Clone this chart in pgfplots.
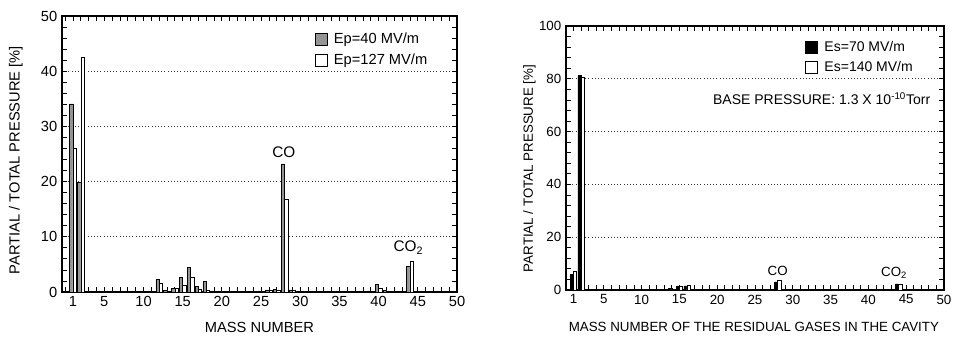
\documentclass[border=0pt]{standalone}
\usepackage{pgfplots}
\pgfplotsset{compat=1.18}
\usepackage{fontspec}
\setmainfont{Liberation Sans}
\pgfplotsset{
  sqlegend/.style={legend image code/.code={\draw[##1,line width=0.5pt] (0pt,-4.5pt) rectangle (9pt,4.5pt);}},
  common/.style={
    scale only axis,
    axis line style={line width=1pt},
    /pgf/number format/assume math mode=true,
    ybar, bar width=0.42,
    ymin=0,
    xmax=50,
    xtick={1,5,10,15,20,25,30,35,40,45,50},
    minor xtick={0,1,...,50},
    tick align=inside,
    major tick length=3.5pt, minor tick length=3.5pt,
    tick style={line width=0.6pt,black},
    ymajorgrids, grid style={dotted, line width=0.5pt, black!80},
    legend cell align=left,
    legend style={draw=none, fill=none, inner sep=0pt, row sep=2pt, anchor=north west,
      /tikz/every odd column/.append style={column sep=3pt}},
  }
}
\begin{document}
\begin{tikzpicture}
\useasboundingbox (0,0) rectangle (715.5pt,254.25pt);
\begin{axis}[common,
  at={(46.5pt,35.25pt)}, anchor=south west,
  width=296.25pt, height=207pt,
  xmin=-0.4, ymax=50,
  ytick={0,10,...,50}, minor y tick num=4,
  font=\fontsize{11}{13}\selectfont,
  xlabel={MASS NUMBER},
  ylabel={PARTIAL / TOTAL PRESSURE  [\%]},
  xlabel style={at={(axis description cs:0.5,-0.127)}, anchor=center},
  ylabel style={at={(axis description cs:-0.117,0.478)}, anchor=center},
  legend style={at={(axis cs:31.8,47.4)}, font=\fontsize{11}{13}\selectfont},
]
\addplot[sqlegend, draw=black, line width=0.4pt, fill=black!42, bar shift=-0.21] coordinates {
(1,34.1)(2,19.9)(12,2.3)(13,0.3)(14,0.7)(15,2.7)(16,4.5)(17,1.0)(18,1.9)(19,0.2)(20,0.1)
(25,0.2)(26,0.4)(27,0.5)(28,23.2)(29,0.4)(30,0.2)(39,0.2)(40,1.4)(41,0.3)(44,4.6)};
\addlegendentry{Ep=40 MV/m}
\addplot[sqlegend, draw=black, line width=0.4pt, fill=white, bar shift=0.21] coordinates {
(1,26.0)(2,42.5)(12,1.5)(13,0.2)(14,0.6)(15,1.3)(16,2.6)(17,0.5)(18,0.3)(19,0.1)(20,0.1)
(25,0.1)(26,0.3)(27,0.4)(28,16.8)(29,0.3)(30,0.1)(40,0.7)(41,0.2)(44,5.6)};
\addlegendentry{Ep=127 MV/m}
\node[font=\fontsize{11.5}{13}\selectfont] at (axis cs:27.9,25.4) {CO};
\node[font=\fontsize{11.5}{13}\selectfont] at (axis cs:43.8,8.0) {CO\textsubscript{2}};
\end{axis}
\begin{axis}[common,
  at={(424.5pt,36.75pt)}, anchor=south west,
  width=283.5pt, height=198pt,
  xmin=0, ymax=100,
  ytick={0,20,...,100}, minor y tick num=4,
  font=\fontsize{10}{12}\selectfont,
  xlabel={MASS NUMBER OF THE RESIDUAL GASES IN THE CAVITY},
  ylabel={PARTIAL / TOTAL PRESSURE [\%]},
  xlabel style={at={(axis description cs:0.497,-0.14)}, anchor=center},
  ylabel style={at={(axis description cs:-0.097,0.46)}, anchor=center},
  legend style={at={(axis cs:31.6,95.2)}, font=\fontsize{10.5}{12}\selectfont},
]
\addplot[sqlegend, draw=black, line width=0.4pt, fill=black, bar shift=-0.21] coordinates {
(1,6.0)(2,81.2)(14,0.5)(15,1.5)(16,1.6)(28,3.1)(44,2.3)};
\addlegendentry{Es=70 MV/m}
\addplot[sqlegend, draw=black, line width=0.4pt, fill=white, bar shift=0.21] coordinates {
(1,7.2)(2,80.4)(14,0.3)(15,1.4)(16,1.8)(28,3.8)(44,2.2)};
\addlegendentry{Es=140 MV/m}
\node[anchor=east, font=\fontsize{10.5}{12}\selectfont] at (axis cs:48.8,72.5) {BASE PRESSURE: 1.3 X 10\textsuperscript{-10}Torr};
\node[font=\fontsize{10}{12}\selectfont] at (axis cs:28.0,7.4) {CO};
\node[font=\fontsize{10}{12}\selectfont] at (axis cs:43.4,6.6) {CO\textsubscript{2}};
\end{axis}
\end{tikzpicture}
\end{document}
